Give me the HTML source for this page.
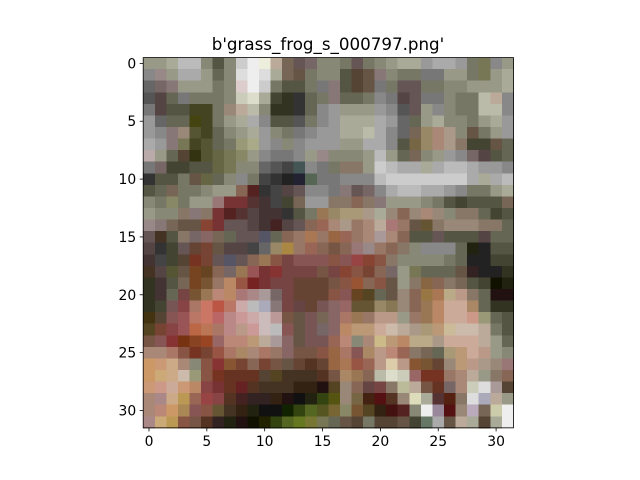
<!DOCTYPE html>
<html><head><meta charset="utf-8"><style>
html,body{margin:0;padding:0;background:#fff;}
svg{display:block;font-family:"DejaVu Sans","Liberation Sans",sans-serif;}
</style></head><body>
<svg id="chart" width="640" height="480" viewBox="0 0 640 480" xmlns="http://www.w3.org/2000/svg">
<rect width="640" height="480" fill="#fff"/>
<text x="328" y="50" text-anchor="middle" font-size="16.7" fill="#000">b'grass_frog_s_000797.png'</text>
<g id="cells" shape-rendering="crispEdges"></g>
<g id="axes"></g>
</svg>
<script>
const pixelRows = [
"998 998 aa9 bbb bbb 887 554 887 ccc eee eed ba9 765 655 766 887 887 776 655 776 887 998 aa9 aa9 999 aaa aaa 999 776 775 888 998",
"888 988 998 aaa aaa 998 665 887 ddd eee ddd aa9 765 654 776 887 887 554 543 654 877 887 776 776 777 777 998 998 776 775 998 aa9",
"666 766 877 998 998 998 776 887 dcc eee ccc 776 554 554 776 777 877 554 543 654 777 776 655 655 776 776 887 887 998 998 998 aa9",
"555 544 665 777 776 776 776 887 ccb ddc aa9 443 332 333 665 776 877 665 665 776 888 777 544 655 777 777 887 776 776 bba ba9 888",
"777 544 554 554 442 442 776 987 ba9 bba 887 332 332 333 665 888 999 998 998 998 999 888 555 655 998 888 887 776 776 bba bba 888",
"999 666 665 665 441 442 776 998 aa9 aaa 888 554 554 555 776 888 999 aa9 aa9 aa9 aaa 999 666 665 998 aa9 887 887 776 998 aa9 999",
"999 888 877 987 553 442 665 887 998 aa9 999 887 776 777 888 999 999 aa9 aa9 bba aaa 888 666 765 986 a87 a98 887 654 776 998 999",
"aaa 999 877 775 442 553 665 776 997 aa8 999 888 887 888 999 999 999 998 998 aaa aaa 888 554 764 986 a87 a98 876 443 443 654 665",
"baa 998 665 543 331 553 664 775 886 998 888 777 777 888 998 988 887 887 887 998 bbb 998 665 765 887 998 999 888 766 544 554 665",
"777 766 443 443 554 554 664 775 887 887 666 555 444 455 888 777 776 876 876 998 ccc bbb aaa aaa aa9 aaa bbb bbb aaa 999 999 888",
"333 554 554 776 654 664 665 887 888 776 444 333 222 223 565 777 777 888 888 888 bbb ccc ccc ccc ccc ccc ccc ccc aaa aa9 aaa bbb",
"554 665 765 776 776 887 998 998 865 522 333 444 544 655 888 888 777 877 655 766 888 aaa bbb bbb aaa aaa 999 888 776 776 998 aa9",
"887 776 886 776 998 998 977 733 733 533 433 444 443 765 999 999 876 876 865 876 877 998 998 998 887 776 554 443 554 554 554 765",
"998 887 887 876 877 876 733 522 533 544 433 433 333 554 776 975 986 a97 a97 a98 aa9 987 865 987 a87 987 887 876 876 665 443 554",
"988 877 765 654 654 843 733 655 655 544 433 422 544 655 865 965 a87 a98 976 a87 ba9 a77 976 654 653 876 987 987 987 876 876 665",
"655 432 554 876 766 866 765 665 655 655 556 665 865 976 a75 976 964 965 976 a87 a99 a87 865 554 554 655 554 554 554 544 665 665",
"544 333 443 655 643 743 654 544 544 444 666 986 a84 976 965 865 754 865 977 988 976 865 876 887 888 888 888 665 221 222 554 554",
"433 444 443 543 732 743 655 556 655 865 975 854 744 855 855 855 854 855 944 843 854 876 887 887 887 887 776 665 222 222 443 443",
"432 544 553 654 742 642 865 766 975 955 733 833 744 744 744 754 744 843 854 743 865 766 998 775 665 665 665 654 322 222 222 332",
"332 433 554 765 742 753 976 b86 954 722 733 744 744 643 643 643 754 854 953 865 854 654 998 876 864 865 876 765 554 443 110 221",
"332 433 665 744 753 975 b87 b86 a77 a88 a99 766 744 643 643 643 854 855 642 542 665 654 987 865 974 a75 ba8 b98 876 665 211 211",
"332 443 755 844 a76 c76 b54 b76 caa bbb aab 877 744 644 643 755 866 966 653 653 986 875 987 865 975 b86 ca9 ca9 a86 665 332 332",
"431 543 855 955 b76 c76 b66 b88 c99 caa cbb b99 754 654 755 765 866 a76 975 976 b98 b98 998 976 975 b86 ca9 ca9 c98 997 665 554",
"542 743 844 955 b64 b75 a76 b88 b98 c99 cbb bbb 855 654 755 766 866 b86 b97 b97 ca9 cba ba9 a98 a97 b97 cb9 cba cba ba9 776 554",
"754 855 833 731 842 942 966 b87 b87 b97 ba9 a99 866 654 755 755 965 b87 887 a87 cb8 b97 b86 ba8 ba8 a98 ca9 ca9 ca9 ba9 998 665",
"a87 a87 a76 854 732 743 954 a76 a86 a87 a76 976 866 754 754 854 964 a76 855 a86 b98 b87 965 876 765 665 a97 b97 ca9 b98 998 887",
"c96 c97 ca8 a87 887 854 833 853 743 865 743 754 654 643 532 643 964 a75 954 965 b98 dca b98 853 753 643 987 b97 b98 a98 987 977",
"c96 ca7 ca8 cba 997 854 732 632 632 632 543 542 432 432 432 532 754 a86 975 865 bba ddc ccb 966 732 732 976 a87 ba9 998 876 865",
"c97 c98 ca9 c97 b86 844 733 632 622 532 432 432 432 321 321 211 542 987 865 644 744 876 bb9 ba9 754 632 766 a87 ccb ddd a99 543",
"a87 a88 ca8 b95 965 944 844 532 422 322 322 321 211 111 221 341 551 987 764 421 511 532 987 ddb aa9 533 521 876 ddd aab ba9 998",
"a87 b87 c96 a85 855 854 653 432 321 221 111 111 120 341 562 552 763 886 753 542 321 411 522 887 eee 989 511 987 bab 765 cca eee",
"a88 ca7 b95 854 754 532 322 221 211 110 220 341 562 672 773 775 665 654 543 776 543 543 654 443 676 aaa 654 ba9 aa9 543 aa9 eee"
];
const xTickValues = [0,5,10,15,20,25,30];
const yTickValues = [0,5,10,15,20,25,30];

const NS = "http://www.w3.org/2000/svg";
const plotLeft = 143.2, plotTop = 57.6, unit = 11.57, nCols = 32, nRows = 32;
function xScale(v){ return plotLeft + (v + 0.5) * unit; }
function yScale(v){ return plotTop + (v + 0.5) * unit; }
function mk(tag, attrs, parent){ const e = document.createElementNS(NS, tag); for (const k in attrs) e.setAttribute(k, attrs[k]); parent.appendChild(e); return e; }

const cellsGroup = document.getElementById('cells');
pixelRows.forEach((row, r) => {
  row.split(' ').forEach((c, col) => {
    const rect = mk('rect', {x: xScale(col - 0.5), y: yScale(r - 0.5), width: unit + 0.6, height: unit + 0.6, fill: '#' + c}, cellsGroup);
    
    
  });
});

const axesGroup = document.getElementById('axes');
const frame = mk('rect', {x: plotLeft, y: plotTop, width: nCols * unit, height: nRows * unit, fill: 'none', stroke: '#000', 'stroke-width': 0.8}, axesGroup);


const plotBottom = plotTop + nRows * unit;
xTickValues.forEach(v => {
  const x = xScale(v);
  const t = mk('line', {x1: x, x2: x, y1: plotBottom, y2: plotBottom + 3.5, stroke: '#000', 'stroke-width': 0.8}, axesGroup);
  
  
  const l = mk('text', {x: x, y: plotBottom + 18, 'text-anchor': 'middle', 'font-size': 13.9, fill: '#000'}, axesGroup);
  l.textContent = String(v);
  
  
});
yTickValues.forEach(v => {
  const y = yScale(v);
  const t = mk('line', {x1: plotLeft - 3.5, x2: plotLeft, y1: y, y2: y, stroke: '#000', 'stroke-width': 0.8}, axesGroup);
  
  
  const l = mk('text', {x: plotLeft - 7, y: y + 5, 'text-anchor': 'end', 'font-size': 13.9, fill: '#000'}, axesGroup);
  l.textContent = String(v);
  
  
});
</script>
</body></html>
